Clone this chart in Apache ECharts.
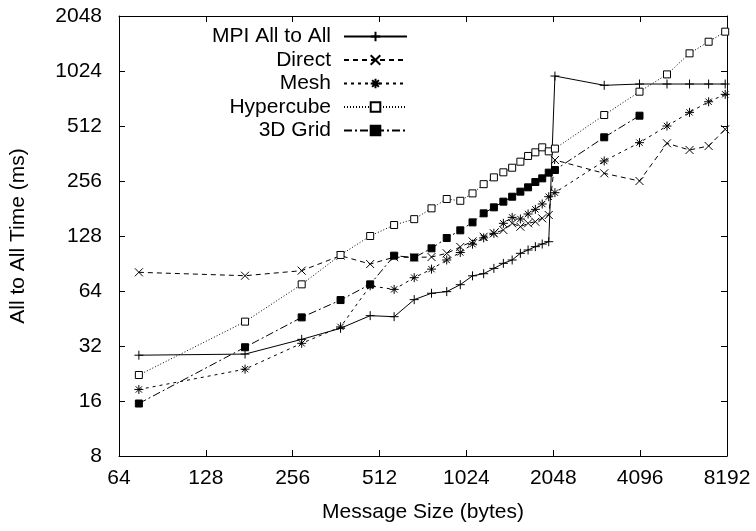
<!DOCTYPE html>
<html lang="en">

<head>
	<meta charset="UTF-8">
	<title>All to All</title>
	<style>
		html, body { margin: 0; padding: 0; background: #fff; }
	</style>
</head>

<body>

	<div id="chart" style="width: 756px; height: 531px;"></div>

	<script src="https://cdn.jsdelivr.net/npm/echarts@6/dist/echarts.min.js"></script>
	<script>
		// message sizes in bytes
		const sizes = [75, 175, 275, 375, 475, 575, 675, 775, 875, 975, 1075, 1175, 1275, 1375, 1475, 1575, 1675, 1775, 1875, 1975, 2075, 3075, 4075, 5075, 6075, 7075, 8075];

		// times in ms
		const mpi = [28.5, 28.9, 34.8, 40, 46.9, 46.3, 57.4, 62.2, 63.5, 69.3, 77.5, 79.6, 85.1, 90.7, 94.6, 102.9, 107.3, 111.9, 115.7, 119.1, 961, 855, 869, 869, 869, 869, 869];
		const direct = [81, 77.6, 82.7, 99.9, 89.9, 98, 97.8, 98.2, 102.9, 111.5, 119.6, 126.8, 132.4, 138, 150.2, 143.9, 150.2, 153.2, 159.9, 166.8, 333.5, 282, 256, 411.6, 378.5, 398, 491];
		const mesh = [18.5, 23.9, 33.1, 40.7, 68.3, 65.3, 75.7, 84.3, 94.6, 104, 115.5, 125, 132.4, 150.2, 161.9, 158.6, 168.9, 179.1, 191.6, 210, 221, 329.4, 415, 512, 608, 695, 763];
		const hypercube = [22.2, 43.5, 69.6, 100.8, 128, 147, 158.3, 181.4, 204, 199.5, 219, 246, 268, 285.6, 302.7, 326.6, 351, 367.4, 391.3, 372, 385, 588, 789, 981, 1279, 1481, 1681];
		const grid3d = [15.5, 31.5, 45.9, 57.1, 69.6, 99.9, 97.6, 109.6, 124.8, 137.5, 152, 170.3, 183.7, 197.3, 210, 223.8, 236.4, 252.8, 264.7, 284.4, 294, 444, 583, null, null, null, null];

		const xTicks = [64, 128, 256, 512, 1024, 2048, 4096, 8192];
		const yTicks = [8, 16, 32, 64, 128, 256, 512, 1024, 2048];

		const font = 'Liberation Sans';
		const pairs = ys => sizes.map((x, i) => [x, ys[i]]);

		const plus = 'path://M0,5L10,5M5,0L5,10';
		const cross = 'path://M0,0L10,10M0,10L10,0';
		const star = 'path://M0,5L10,5M5,0L5,10M1.5,1.5L8.5,8.5M1.5,8.5L8.5,1.5';

		function line(name, ys, dash, symbol, size, fill) {
			return {
				name: name,
				type: 'line',
				data: pairs(ys),
				symbol: symbol,
				symbolSize: size,
				lineStyle: { color: '#000', width: 1, type: dash },
				itemStyle: { color: fill, borderColor: '#000', borderWidth: 1 }
			};
		}

		function axisBase(min, max) {
			return {
				type: 'log',
				logBase: 2,
				min: min,
				max: max,
				interval: 1,
				splitLine: { show: false },
				axisLine: { show: true, lineStyle: { color: '#000', width: 1 } },
				axisTick: { show: true, inside: true, length: 6, lineStyle: { color: '#000' } }
			};
		}

		const chart = echarts.init(document.getElementById('chart'));

		const option = {
			animation: false,
			backgroundColor: '#fff',
			textStyle: { fontFamily: font },
			grid: { left: 118, right: 29, top: 16, bottom: 75 },
			legend: {
				orient: 'vertical',
				align: 'right',
				right: 343,
				top: 21,
				itemWidth: 63,
				itemHeight: 12,
				itemGap: 2.5,
				textStyle: { fontFamily: font, fontSize: 21, lineHeight: 21, color: '#000', padding: [0, 8, 0, 0] },
				data: ['MPI All to All', 'Direct', 'Mesh', 'Hypercube', '3D Grid']
			},
			xAxis: [
				Object.assign(axisBase(xTicks[0], xTicks[xTicks.length - 1]), {
					position: 'bottom',
					name: 'Message Size (bytes)',
					nameLocation: 'middle',
					nameGap: 46,
					nameTextStyle: { fontFamily: font, fontSize: 21, color: '#000' },
					axisLabel: { fontFamily: font, fontSize: 21, color: '#000', margin: 12, formatter: v => Math.round(v) }
				}),
				Object.assign(axisBase(xTicks[0], xTicks[xTicks.length - 1]), {
					position: 'top',
					axisLabel: { show: false }
				})
			],
			yAxis: [
				Object.assign(axisBase(yTicks[0], yTicks[yTicks.length - 1]), {
					position: 'left',
					name: 'All to All Time (ms)',
					nameLocation: 'middle',
					nameGap: 90,
					nameTextStyle: { fontFamily: font, fontSize: 21, color: '#000' },
					axisLabel: { fontFamily: font, fontSize: 21, color: '#000', margin: 17, formatter: v => Math.round(v) }
				}),
				Object.assign(axisBase(yTicks[0], yTicks[yTicks.length - 1]), {
					position: 'right',
					axisLabel: { show: false }
				})
			],
			series: [
				line('MPI All to All', mpi, 'solid', plus, 9, '#000'),
				line('Direct', direct, [5, 4], cross, 8, '#000'),
				line('Mesh', mesh, [3, 4], star, 9, '#000'),
				line('Hypercube', hypercube, [1, 2], 'rect', 7, '#fff'),
				line('3D Grid', grid3d, [8, 3, 2, 3], 'rect', 7, '#000')
			]
		};

		chart.setOption(option);
	</script>
</body>

</html>
